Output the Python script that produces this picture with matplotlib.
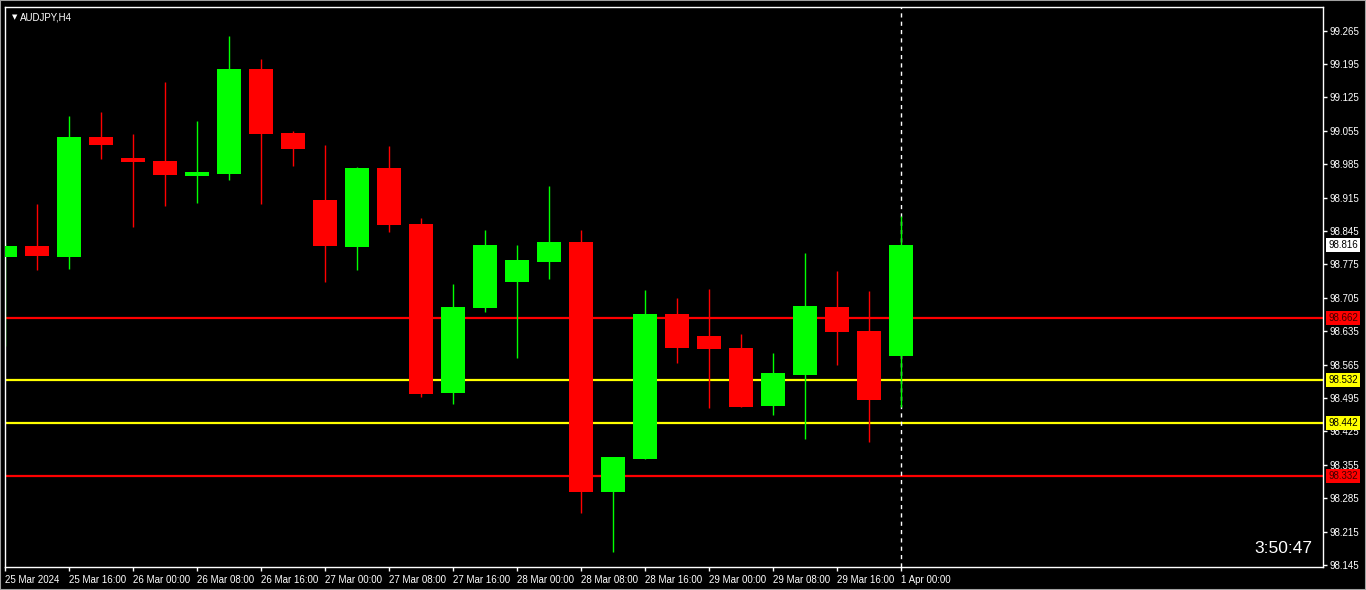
import matplotlib.pyplot as plt
from matplotlib.patches import Rectangle

plt.rcParams['font.family'] = ['Liberation Sans', 'DejaVu Sans']

# AUDJPY H4 bars (bar 0 = 25 Mar 08:00)
opens = [98.791, 98.814, 98.791, 99.042, 98.998, 98.992, 98.960, 98.965, 99.185, 99.050,
         98.910, 98.812, 98.977, 98.860, 98.506, 98.684, 98.738, 98.780, 98.822, 98.298,
         98.367, 98.671, 98.625, 98.600, 98.478, 98.543, 98.686, 98.635, 98.583]
highs = [98.820, 98.902, 99.086, 99.095, 99.048, 99.157, 99.076, 99.254, 99.206, 99.055,
         99.025, 98.979, 99.023, 98.872, 98.734, 98.847, 98.816, 98.940, 98.847, 98.371,
         98.721, 98.705, 98.724, 98.629, 98.589, 98.799, 98.761, 98.719, 98.877]
lows = [98.604, 98.763, 98.765, 98.996, 98.854, 98.898, 98.904, 98.952, 98.902, 98.981,
        98.738, 98.763, 98.843, 98.497, 98.482, 98.675, 98.579, 98.744, 98.254, 98.172,
        98.367, 98.568, 98.474, 98.476, 98.459, 98.409, 98.564, 98.403, 98.476]
closes = [98.814, 98.793, 99.042, 99.025, 98.990, 98.963, 98.969, 99.185, 99.048, 99.017,
          98.814, 98.977, 98.858, 98.503, 98.686, 98.816, 98.784, 98.822, 98.298, 98.371,
          98.671, 98.600, 98.598, 98.476, 98.547, 98.688, 98.633, 98.491, 98.816]

tick_labels = ['25 Mar 2024', '25 Mar 16:00', '26 Mar 00:00', '26 Mar 08:00', '26 Mar 16:00',
               '27 Mar 00:00', '27 Mar 08:00', '27 Mar 16:00', '28 Mar 00:00', '28 Mar 08:00',
               '28 Mar 16:00', '29 Mar 00:00', '29 Mar 08:00', '29 Mar 16:00', '1 Apr 00:00']

level_prices = [98.662, 98.532, 98.442, 98.332]
level_colors = ['#ff0000', '#ffff00', '#ffff00', '#ff0000']
current_price = 98.816
timer_text = '3:50:47'

fig = plt.figure(figsize=(13.66, 5.9), dpi=100, facecolor='black')
ax = fig.add_axes([5 / 1366, 1 - 567 / 590, 1318 / 1366, 560 / 590])
ax.set_facecolor('black')

# grey outer frame
fig.patches.append(Rectangle((0, 0), 1, 1, transform=fig.transFigure,
                             fill=False, edgecolor='#a0a0a0', linewidth=1.5))

x = list(range(len(opens)))
for i in x:
    col = '#00ff00' if closes[i] >= opens[i] else '#ff0000'
    ax.vlines(i, lows[i], highs[i], color=col, linewidth=1, zorder=2)
    lo = min(opens[i], closes[i])
    h = max(abs(closes[i] - opens[i]), 0.006)
    ax.bar(i, h, bottom=lo, width=0.78, color=col, linewidth=0, zorder=3)

# horizontal levels
for p, c in zip(level_prices, level_colors):
    ax.axhline(p, color=c, linewidth=1.6, zorder=1)
    ax.annotate(f'{p:.3f}', xy=(1.004, p), xycoords=('axes fraction', 'data'),
                ha='left', va='center', fontsize=7, color='#400000' if c == '#ff0000' else 'black',
                bbox=dict(boxstyle='square,pad=0.2', fc=c, ec='none'), annotation_clip=False)

ax.annotate(f'{current_price:.3f}', xy=(1.004, current_price), xycoords=('axes fraction', 'data'),
            ha='left', va='center', fontsize=7, color='black',
            bbox=dict(boxstyle='square,pad=0.2', fc='white', ec='none'), annotation_clip=False)

# period separator at the current bar
ax.axvline(28, color='white', linewidth=1, linestyle=(0, (3, 3)), zorder=1)

ax.set_xlim(0, 1318 / 32)
ax.set_ylim(98.1408, 99.3147)

yt = [round(99.265 - 0.07 * k, 3) for k in range(17)]
ax.yaxis.tick_right()
ax.set_yticks(yt)
ax.set_yticklabels([f'{v:.3f}' for v in yt])
ax.set_xticks(list(range(0, 29, 2)))
ax.set_xticklabels(tick_labels, ha='left')
ax.tick_params(colors='white', labelsize=7, length=3, width=1, direction='out', pad=2)
ax.tick_params(axis='x', pad=3)
for s in ax.spines.values():
    s.set_color('white')
    s.set_linewidth(1)

ax.text(0.0055, 0.988, '\u25bc', transform=ax.transAxes, color='white', fontsize=5, va='top',
        family='DejaVu Sans')
ax.text(0.0115, 0.99, 'AUDJPY,H4', transform=ax.transAxes, color='white', fontsize=7, va='top')
ax.text(0.992, 0.02, timer_text, transform=ax.transAxes, color='white', fontsize=12.5,
        ha='right', va='bottom')

fig.savefig('out.png', dpi=100, facecolor='black')
